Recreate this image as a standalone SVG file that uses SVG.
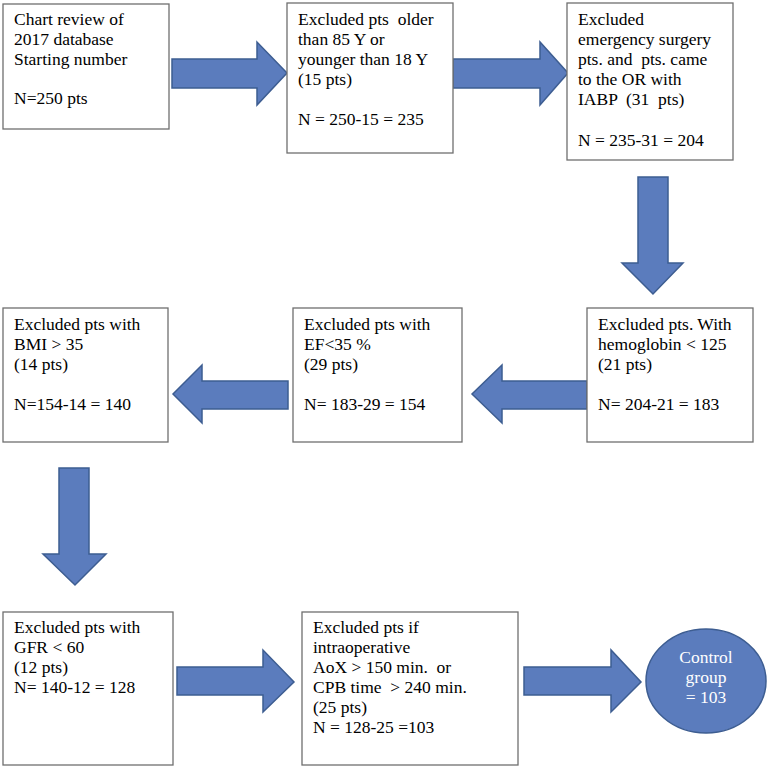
<svg xmlns="http://www.w3.org/2000/svg" width="770" height="769" viewBox="0 0 770 769">
<style>
.box{fill:#fff;stroke:#6f6f6f;stroke-width:1.3}
.arr{fill:#5b7cbd;stroke:#3d5d91;stroke-width:1.5;stroke-linejoin:miter}
text{font-family:"Liberation Serif","Times New Roman",serif;font-size:17.5px;fill:#000}
.w{fill:#fff;text-anchor:middle}
</style>
<rect width="770" height="769" fill="#fff"/>
<g id="connectors">
<polygon class="arr" points="172,59 257,59 257,42 287,73 257,105 257,88 172,88"/>
<polygon class="arr" points="453,59 540,59 540,42 568,73 540,105 540,88 453,88"/>
<polygon class="arr" points="638,177 668,177 668,263 683,263 653,294 622,263 638,263"/>
<polygon class="arr" points="587,381 502,381 502,365 472,394 502,423 502,409 587,409"/>
<polygon class="arr" points="288,381 202,381 202,365 173,394 202,423 202,409 288,409"/>
<polygon class="arr" points="59,468 89,468 89,554 106,554 75,585 43,554 59,554"/>
<polygon class="arr" points="177,667 263,667 263,650 294,682 263,712 263,695 177,695"/>
<polygon class="arr" points="524,667 611,667 611,650 641,682 611,712 611,695 524,695"/>
</g>
<g id="n1">
<rect class="box" x="3" y="4" width="166" height="125"/>
<text x="14" y="25">Chart review of</text>
<text x="14" y="45">2017 database</text>
<text x="14" y="65">Starting number</text>
<text x="14" y="104">N=250 pts</text>
</g>
<g id="n2">
<rect class="box" x="287" y="3" width="166" height="150"/>
<text x="298" y="25" xml:space="preserve">Excluded pts  older</text>
<text x="298" y="45">than 85 Y or</text>
<text x="298" y="65">younger than 18 Y</text>
<text x="298" y="85">(15 pts)</text>
<text x="298" y="125">N = 250-15 = 235</text>
</g>
<g id="n3">
<rect class="box" x="567" y="3" width="166" height="157"/>
<text x="578" y="25">Excluded</text>
<text x="578" y="45">emergency surgery</text>
<text x="578" y="65" xml:space="preserve">pts. and  pts. came</text>
<text x="578" y="85">to the OR with</text>
<text x="578" y="105" xml:space="preserve">IABP  (31  pts)</text>
<text x="578" y="146">N = 235-31 = 204</text>
</g>
<g id="n4">
<rect class="box" x="587" y="308" width="166" height="134"/>
<text x="598" y="330">Excluded pts. With</text>
<text x="598" y="350">hemoglobin &lt; 125</text>
<text x="598" y="370">(21 pts)</text>
<text x="598" y="410">N= 204-21 = 183</text>
</g>
<g id="n5">
<rect class="box" x="293" y="308" width="169" height="134"/>
<text x="304" y="330">Excluded pts with</text>
<text x="304" y="350">EF&lt;35 %</text>
<text x="304" y="370">(29 pts)</text>
<text x="304" y="410">N= 183-29 = 154</text>
</g>
<g id="n6">
<rect class="box" x="3" y="308" width="165" height="134"/>
<text x="14" y="330">Excluded pts with</text>
<text x="14" y="350">BMI &gt; 35</text>
<text x="14" y="370">(14 pts)</text>
<text x="14" y="410">N=154-14 = 140</text>
</g>
<g id="n7">
<rect class="box" x="3" y="612" width="170" height="153"/>
<text x="14" y="633">Excluded pts with</text>
<text x="14" y="653">GFR &lt; 60</text>
<text x="14" y="673">(12 pts)</text>
<text x="14" y="693">N= 140-12 = 128</text>
</g>
<g id="n8">
<rect class="box" x="302" y="612" width="216" height="153"/>
<text x="313" y="633">Excluded pts if</text>
<text x="313" y="653">intraoperative</text>
<text x="313" y="673" xml:space="preserve">AoX &gt; 150 min.  or</text>
<text x="313" y="693" xml:space="preserve">CPB time  &gt; 240 min.</text>
<text x="313" y="713">(25 pts)</text>
<text x="313" y="733">N = 128-25 =103</text>
</g>
<g id="n9">
<ellipse cx="706" cy="681" rx="60" ry="52" fill="#5b7cbd" stroke="#3d5d91" stroke-width="1.5"/>
<text class="w" x="706" y="663">Control</text>
<text class="w" x="706" y="683">group</text>
<text class="w" x="706" y="703">= 103</text>
</g>
</svg>
